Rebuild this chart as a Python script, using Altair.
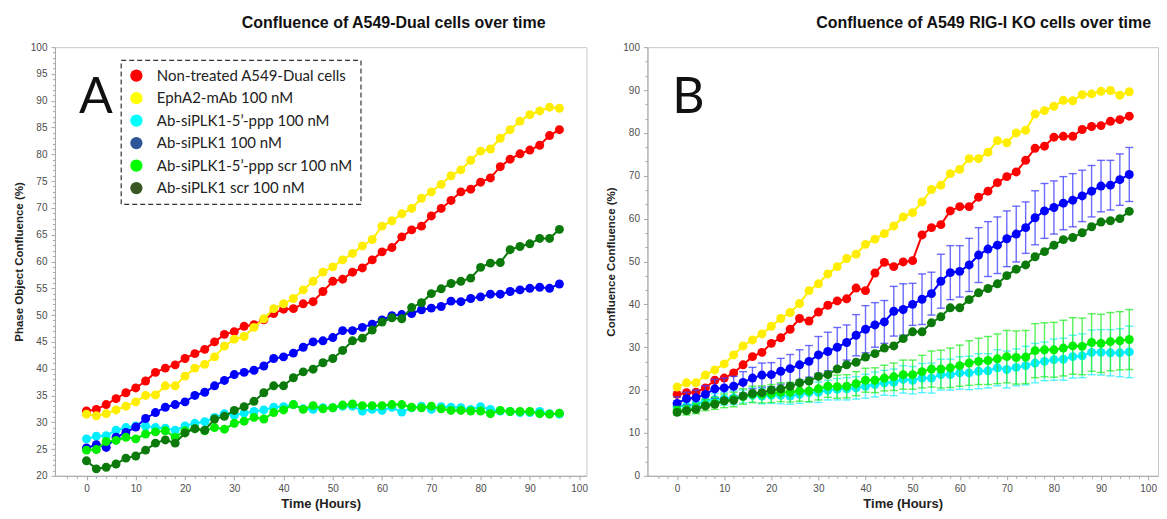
import altair as alt
import pandas as pd

# ---------------- data ----------------
hours = [0, 2, 4, 6, 8, 10, 12, 14, 16, 18, 20, 22, 24, 26, 28, 30, 32, 34, 36, 38,
         40, 42, 44, 46, 48, 50, 52, 54, 56, 58, 60, 62, 64, 66, 68, 70, 72, 74, 76, 78,
         80, 82, 84, 86, 88, 90, 92, 94, 96]

series_names = ["Non-treated A549-Dual cells", "EphA2-mAb 100 nM", "Ab-siPLK1-5’-ppp 100 nM",
                "Ab-siPLK1 100 nM", "Ab-siPLK1-5’-ppp scr 100 nM", "Ab-siPLK1 scr 100 nM"]
line_colors = ["#ff0000", "#ffee00", "#00eeff", "#0000ff", "#00ee00", "#0b7a0b"]
legend_colors = ["#ff0000", "#ffff00", "#00ffff", "#2e5597", "#00ff00", "#385723"]

# Panel A
a_red = [32.1, 32.4, 33.3, 34.4, 35.5, 36.4, 37.7, 39.3, 40.1, 40.7, 41.9, 42.8, 43.6, 45.0, 46.4, 46.9, 47.9, 48.2, 49.1, 50.3,
         51.1, 51.2, 52.1, 52.5, 54.4, 56.3, 56.7, 58.0, 58.8, 60.3, 61.8, 62.6, 64.6, 65.9, 66.6, 68.5, 69.9, 71.4, 73.0, 73.5,
         74.8, 75.6, 77.7, 79.1, 80.1, 80.8, 81.7, 83.5, 84.6]
a_yellow = [31.5, 31.2, 31.6, 32.3, 33.0, 33.8, 35.0, 35.1, 36.8, 36.8, 38.6, 40.1, 40.8, 42.2, 44.2, 45.5, 46.0, 47.7, 49.3, 51.2,
            52.1, 53.1, 54.7, 56.3, 58.0, 59.0, 60.3, 61.5, 62.9, 64.1, 66.6, 67.6, 68.9, 69.9, 71.8, 73.0, 74.4, 76.0, 77.1, 78.9,
            80.6, 81.0, 83.0, 84.6, 86.2, 87.4, 88.1, 88.8, 88.6]
a_cyan = [26.9, 27.4, 27.5, 28.5, 29.0, 29.3, 29.3, 29.0, 28.9, 28.5, 29.3, 29.8, 30.1, 30.9, 31.6, 31.3, 31.7, 32.0, 32.3, 32.8,
          32.9, 33.3, 32.5, 32.4, 32.7, 32.7, 33.0, 33.0, 32.1, 32.4, 32.2, 32.8, 31.9, 32.7, 33.0, 32.4, 32.9, 32.8, 32.7, 32.4,
          32.9, 32.4, 32.1, 32.0, 31.8, 31.8, 32.0, 31.6, 31.5]
a_blue = [25.2, 25.8, 25.3, 27.2, 28.1, 29.1, 30.7, 31.8, 32.8, 33.3, 33.8, 35.0, 35.6, 36.8, 37.8, 38.9, 39.3, 39.7, 40.5, 41.9,
          42.2, 42.9, 44.0, 45.0, 45.2, 45.8, 47.1, 47.1, 47.7, 48.3, 49.1, 49.9, 50.1, 50.3, 51.0, 51.3, 51.6, 52.6, 52.5, 53.1,
          53.4, 53.9, 53.9, 54.4, 54.7, 55.0, 55.2, 55.0, 55.8]
a_green = [24.8, 24.9, 26.4, 26.6, 27.2, 26.9, 27.8, 28.2, 28.4, 27.2, 28.4, 28.8, 28.4, 29.0, 28.7, 29.8, 30.2, 30.9, 30.6, 31.8,
           32.3, 33.3, 32.4, 33.1, 32.5, 32.7, 33.2, 33.4, 33.1, 33.1, 33.1, 33.3, 33.3, 32.8, 32.7, 33.0, 32.5, 32.2, 32.2, 32.1,
           32.1, 31.6, 32.2, 32.0, 32.0, 32.0, 31.6, 31.5, 31.7]
a_dkgreen = [22.8, 21.3, 21.6, 22.2, 23.3, 23.7, 24.8, 26.1, 26.7, 26.1, 28.0, 28.8, 28.5, 30.6, 31.1, 32.2, 32.9, 33.9, 35.5, 36.8,
             36.8, 38.3, 39.4, 39.9, 41.1, 41.9, 43.4, 45.2, 45.7, 47.2, 48.7, 49.5, 49.3, 51.4, 52.3, 54.0, 54.9, 55.9, 56.3, 56.9,
             58.9, 59.7, 59.8, 62.2, 62.8, 63.3, 64.3, 64.3, 66.0]

# Panel B
b_red = [19.0, 19.4, 19.5, 20.5, 22.3, 22.8, 24.0, 25.9, 27.8, 28.8, 30.9, 32.2, 34.2, 36.7, 36.1, 38.2, 39.8, 40.8, 41.3, 43.8,
         43.2, 47.3, 49.8, 48.8, 49.9, 50.2, 56.2, 57.9, 58.6, 61.8, 62.8, 62.8, 65.0, 66.4, 68.4, 69.8, 70.9, 73.6, 76.4, 76.9,
         79.0, 79.2, 79.2, 80.8, 81.5, 81.7, 82.7, 83.1, 83.9]
b_yellow = [20.7, 21.7, 21.7, 23.5, 24.7, 26.1, 28.2, 30.3, 31.7, 33.1, 34.9, 36.7, 38.1, 40.2, 43.2, 44.8, 47.1, 48.8, 50.7, 51.7,
            54.0, 55.2, 56.5, 58.3, 60.4, 61.4, 63.9, 66.8, 67.8, 70.5, 71.5, 74.0, 74.0, 75.5, 78.2, 77.7, 80.0, 80.6, 84.4, 85.2,
            86.2, 87.6, 87.5, 88.9, 89.1, 89.7, 89.9, 88.8, 89.6]
b_cyan = [16.3, 16.3, 16.7, 17.5, 17.8, 18.0, 18.2, 18.5, 18.8, 18.6, 18.8, 18.8, 18.6, 19.0, 19.4, 19.5, 20.0, 20.2, 20.3, 20.5,
          20.9, 21.3, 21.7, 21.8, 22.5, 22.3, 22.8, 22.8, 23.6, 23.6, 24.0, 24.0, 24.4, 24.5, 25.2, 24.8, 25.3, 25.7, 26.3, 26.7,
          27.1, 27.2, 27.8, 28.0, 28.8, 28.8, 28.7, 28.7, 28.9]
b_blue = [16.9, 18.0, 18.2, 19.0, 20.3, 20.5, 20.9, 21.8, 22.8, 23.5, 23.6, 24.4, 25.0, 25.9, 26.7, 28.2, 29.0, 30.0, 31.1, 32.8,
          34.2, 35.2, 35.9, 38.4, 38.8, 40.0, 41.2, 42.5, 45.4, 47.4, 47.7, 49.2, 51.5, 52.9, 53.8, 55.3, 56.4, 57.9, 60.2, 61.8,
          62.6, 63.6, 64.3, 65.3, 66.4, 67.6, 67.8, 69.1, 70.3]
b_green = [15.2, 15.3, 15.7, 16.5, 16.9, 17.5, 17.8, 18.5, 19.0, 19.0, 19.2, 19.5, 19.5, 19.8, 19.8, 20.3, 20.9, 20.8, 20.9, 21.5,
           22.3, 22.3, 22.8, 23.1, 23.6, 23.6, 24.3, 24.9, 24.9, 25.2, 25.7, 26.3, 26.7, 26.9, 27.3, 27.8, 27.6, 27.7, 29.2, 29.4,
           29.4, 29.8, 30.3, 30.2, 31.1, 30.9, 31.3, 31.5, 31.8]
b_dkgreen = [14.8, 15.2, 15.5, 16.3, 16.7, 17.5, 17.6, 18.6, 19.2, 19.4, 20.0, 20.3, 20.9, 21.7, 22.1, 23.2, 23.6, 24.9, 25.9, 26.5,
             27.7, 28.5, 29.8, 30.3, 32.0, 33.6, 33.6, 35.7, 37.1, 39.2, 39.2, 41.1, 42.7, 43.7, 44.8, 46.7, 48.2, 49.2, 51.1, 52.3,
             53.8, 55.1, 55.6, 56.7, 58.1, 59.2, 59.5, 60.0, 61.7]
# error bar half-lengths (panel B)
b_cyan_err = [1.2, 1.0, 1.3, 1.2, 1.4, 1.5, 1.6, 1.5, 1.7, 1.8, 1.9, 2.0, 1.9, 2.1, 2.2, 2.4, 2.3, 2.5, 2.6, 2.6,
              2.8, 2.9, 2.9, 3.1, 3.2, 3.2, 3.4, 3.5, 3.6, 3.6, 3.8, 3.9, 4.1, 4.0, 4.2, 4.3, 4.3, 4.5, 4.6, 4.5,
              4.8, 4.9, 5.0, 5.1, 5.2, 5.3, 5.4, 5.6, 6.0]
b_blue_err = [1.5, 1.5, 1.8, 2.0, 2.2, 2.3, 2.3, 2.5, 2.5, 2.8, 2.8, 3.0, 3.3, 3.5, 3.7, 4.3, 4.5, 4.6, 4.1, 4.8,
              5.5, 5.2, 5.0, 5.8, 6.0, 4.9, 5.9, 5.0, 6.3, 6.3, 6.0, 6.2, 6.4, 6.4, 6.6, 6.5, 6.5, 6.0, 6.3, 6.4,
              6.2, 6.2, 6.2, 6.0, 6.0, 6.0, 5.8, 6.0, 6.3]
b_green_err = [1.0, 1.1, 1.2, 1.3, 1.4, 1.6, 1.7, 1.8, 1.9, 2.0, 2.1, 2.2, 2.3, 2.4, 2.5, 2.6, 2.6, 2.7, 2.7, 2.8,
               2.8, 2.9, 3.0, 3.2, 3.4, 3.4, 3.8, 4.2, 4.4, 4.6, 4.8, 5.2, 5.4, 5.6, 5.8, 6.1, 6.2, 6.2, 6.3, 6.3,
               6.4, 6.5, 6.6, 6.6, 6.7, 6.8, 6.8, 6.8, 7.0]
err_colors = ["#3b3bff", "#22ee22", "#22eeff"]

x_ticks = [0, 10, 20, 30, 40, 50, 60, 70, 80, 90, 100]
a_y_ticks = [20, 25, 30, 35, 40, 45, 50, 55, 60, 65, 70, 75, 80, 85, 90, 95, 100]
b_y_ticks = [0, 10, 20, 30, 40, 50, 60, 70, 80, 90, 100]

FONT = "Liberation Sans"


def frame(values_list, errs=None):
    rows = []
    for i, (name, vals) in enumerate(zip(series_names, values_list)):
        for j, (t, v) in enumerate(zip(hours, vals)):
            e = errs[i][j] if (errs is not None and errs[i] is not None) else 0.0
            rows.append({"t": t, "v": v, "series": name, "lo": v - e, "hi": v + e})
    return pd.DataFrame(rows)


def build_panel(df, xdom, ydom, yticks, yminor, title, dx, ytitle, letter, width, height,
                legend=False, err_series=None):
    xs = alt.Scale(domain=xdom, nice=False, zero=False)
    ys = alt.Scale(domain=ydom, nice=False, zero=False)
    xminor = [v for v in range(-4, 101, 2) if v % 10 != 0]
    layers = []

    major = alt.Chart(df).mark_point(opacity=0).encode(
        x=alt.X("t:Q", scale=xs, axis=alt.Axis(values=x_ticks, title="Time (Hours)", orient="bottom",
                                               titleFontSize=13, titleFontWeight="bold", titleFont=FONT,
                                               titleColor="#222", titlePadding=4)),
        y=alt.Y("v:Q", scale=ys, axis=alt.Axis(values=yticks, title=ytitle, orient="left",
                                               titleFontSize=11.5, titleFontWeight="bold", titleFont=FONT,
                                               titleColor="#222", titlePadding=6)),
    )
    minor = alt.Chart(df).mark_point(opacity=0).encode(
        x=alt.X("t:Q", scale=xs, axis=alt.Axis(values=xminor, labels=False, title=None, domain=False,
                                               tickSize=2.5, orient="bottom")),
        y=alt.Y("v:Q", scale=ys, axis=alt.Axis(values=yminor, labels=False, title=None, domain=False,
                                               tickSize=2.5, orient="left")),
    )
    layers += [major, minor]

    if legend:
        layers.append(alt.Chart(df).mark_circle(size=25, opacity=1).encode(
            x=alt.X("t:Q", scale=xs, axis=None),
            y=alt.Y("v:Q", scale=ys, axis=None),
            color=alt.Color("series:N", scale=alt.Scale(domain=series_names, range=legend_colors),
                            legend=alt.Legend(title=None, orient="none", legendX=66, legendY=13,
                                              direction="vertical", symbolType="circle", symbolSize=150,
                                              symbolStrokeWidth=0, symbolOpacity=1,
                                              labelFont="Lato", labelFontSize=15, labelColor="#222",
                                              labelOffset=13, labelLimit=400, rowPadding=6.5,
                                              padding=8, strokeColor="#333", fillColor="white",
                                              cornerRadius=0)),
        ))

    for i, name in enumerate(series_names):
        sub = df[df["series"] == name]
        base = alt.Chart(sub).encode(
            x=alt.X("t:Q", scale=xs, axis=None),
        )
        if err_series is not None and name in err_series:
            ec = err_series[name]
            layers.append(base.mark_rule(strokeWidth=1.4, opacity=0.75).encode(
                y=alt.Y("lo:Q", scale=ys, axis=None), y2="hi:Q", color=alt.value(ec)))
            layers.append(base.mark_tick(orient="horizontal", size=8, thickness=1.4, opacity=0.75).encode(
                y=alt.Y("lo:Q", scale=ys, axis=None), color=alt.value(ec)))
            layers.append(base.mark_tick(orient="horizontal", size=8, thickness=1.4, opacity=0.75).encode(
                y=alt.Y("hi:Q", scale=ys, axis=None), color=alt.value(ec)))
        layers.append(base.mark_line(strokeWidth=2).encode(
            y=alt.Y("v:Q", scale=ys, axis=None), color=alt.value(line_colors[i])))
        layers.append(base.mark_circle(size=80, opacity=1).encode(
            y=alt.Y("v:Q", scale=ys, axis=None), color=alt.value(line_colors[i])))

    layers.append(alt.Chart(pd.DataFrame({"label": [letter]})).mark_text(
        fontSize=50, font="Lato", align="center", baseline="alphabetic", color="#111").encode(
        x=alt.value(41), y=alt.value(66), text="label:N"))

    return alt.layer(*layers).resolve_axis(x="independent", y="independent").properties(
        width=width, height=height,
        title=alt.TitleParams(title, anchor="middle", dx=dx, fontSize=16, font=FONT, fontWeight="bold",
                              color="#111", offset=11),
    )


dfA = frame([a_red, a_yellow, a_cyan, a_blue, a_green, a_dkgreen])
dfB = frame([b_red, b_yellow, b_cyan, b_blue, b_green, b_dkgreen],
            errs=[None, None, b_cyan_err, b_blue_err, b_green_err, None])

a_minor = [v for v in range(20, 101) if v % 5 != 0]
b_minor = [round(k * 10 + d, 3) for k in range(10) for d in (10 / 3, 20 / 3)]

panelA = build_panel(dfA, [-6.4, 101.5], [20, 100], a_y_ticks, a_minor,
                     "Confluence of A549-Dual cells over time", 73, "Phase Object Confluence (%)", "A",
                     532, 429, legend=True)
panelB = build_panel(dfB, [-6.3, 102.1], [0, 100], b_y_ticks, b_minor,
                     "Confluence of A549 RIG-I KO cells over time", 81, "Confluence Confluence (%)", "B",
                     511, 429,
                     err_series={series_names[3]: err_colors[0], series_names[4]: err_colors[1],
                                 series_names[2]: err_colors[2]})

chart = alt.hconcat(panelA, panelB, spacing=16).resolve_scale(color="independent").properties(
    padding={"left": 4, "top": 6, "right": 0, "bottom": 0}
).configure_view(stroke="#c8c8c8", strokeWidth=1).configure_axis(
    grid=False, labelFont=FONT, labelFontSize=10, labelColor="#4d4d4d", domainColor="#a8a8a8",
    tickColor="#a8a8a8", tickSize=4, labelPadding=4
).configure_legend(strokeDash=[5, 3], strokeWidth=1.2)

chart.save("out.html", embed_options={"renderer": "svg", "actions": False})
